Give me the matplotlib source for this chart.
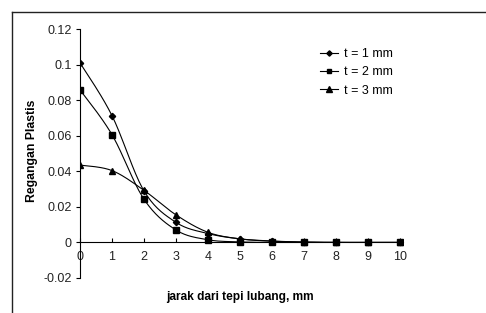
import numpy as np
import matplotlib
matplotlib.use("Agg")
import matplotlib.pyplot as plt
from matplotlib.lines import Line2D

plt.rcParams['font.family'] = ['Liberation Sans', 'DejaVu Sans']

x_vals = [0, 1, 2, 3, 4, 5, 6, 7, 8, 9, 10]
t1 = [0.101, 0.0713, 0.029, 0.0113, 0.0050, 0.0020, 0.0008, 0.0002, 0.0, 0.0, 0.0]
t2 = [0.0858, 0.0606, 0.0243, 0.0070, 0.0015, 0.0003, 0.0, 0.0, 0.0, 0.0, 0.0]
t3 = [0.0435, 0.0404, 0.0293, 0.0155, 0.0057, 0.0020, 0.0007, 0.0002, 0.0, 0.0, 0.0]
labels = ["t = 1 mm", "t = 2 mm", "t = 3 mm"]
markers = ["D", "s", "^"]
msizes = [3.2, 4.0, 4.4]


def smooth(xs, ys, n=20):
    xs = np.asarray(xs, float)
    ys = np.asarray(ys, float)
    P = np.column_stack([xs, ys])
    out = []
    m = len(P)
    for i in range(m - 1):
        p0 = P[i - 1] if i > 0 else P[i]
        p1 = P[i]
        p2 = P[i + 1]
        p3 = P[i + 2] if i + 2 < m else P[i + 1]
        c1 = p1 + (p2 - p0) / 6.0
        c2 = p2 - (p3 - p1) / 6.0
        t = np.linspace(0, 1, n)[:, None]
        seg = ((1 - t) ** 3) * p1 + 3 * ((1 - t) ** 2) * t * c1 + 3 * (1 - t) * t ** 2 * c2 + t ** 3 * p2
        out.append(seg if i == 0 else seg[1:])
    s = np.vstack(out)
    return s[:, 0], s[:, 1]


W, H = 486, 313
fig = plt.figure(figsize=(W / 100, H / 100), dpi=100)
fy = 1 - 11.5 / H
fx = 11.5 / W
fig.lines.append(Line2D([fx, 1.0], [fy, fy], transform=fig.transFigure, color='#222222', linewidth=1.0))
fig.lines.append(Line2D([fx, fx], [0.0, fy], transform=fig.transFigure, color='#222222', linewidth=1.0))

ax = fig.add_axes([80 / W, (H - 278) / H, 323 / W, (278 - 29) / H])

for ys, lab, mk, ms in zip([t1, t2, t3], labels, markers, msizes):
    sx, sy = smooth(x_vals, ys)
    ax.plot(sx, sy, color='black', linewidth=0.8)
    ax.plot(x_vals, ys, linestyle='none', marker=mk, markersize=ms, color='black')
    ax.plot([], [], color='black', linewidth=0.8, marker=mk, markersize=ms * 0.85, label=lab)

ax.set_xlim(0, 10.1)
ax.set_ylim(-0.02, 0.12)
ax.set_yticks([-0.02, 0, 0.02, 0.04, 0.06, 0.08, 0.1, 0.12])
ax.set_yticklabels(['-0.02', '0', '0.02', '0.04', '0.06', '0.08', '0.1', '0.12'])
ax.set_xticks(x_vals)
ax.set_xticklabels([str(v) for v in x_vals])

ax.spines['top'].set_visible(False)
ax.spines['right'].set_visible(False)
ax.spines['left'].set_position(('data', 0))
ax.spines['bottom'].set_position(('data', 0))
ax.spines['left'].set_linewidth(0.8)
ax.spines['bottom'].set_linewidth(0.8)

ax.tick_params(axis='y', direction='out', length=3, width=0.8, labelsize=9, pad=3, colors='black')
ax.tick_params(axis='x', direction='in', length=3, width=0.8, labelsize=9, pad=6, colors='black')
for lbl in ax.get_xticklabels() + ax.get_yticklabels():
    lbl.set_color('#222222')

fig.text(32 / W, 1 - 151 / H, 'Regangan Plastis', rotation=90, ha='center', va='center',
         fontsize=8.8, fontweight='bold')
fig.text(240 / W, 1 - 297 / H, 'jarak dari tepi lubang, mm', ha='center', va='center',
         fontsize=8.6, fontweight='bold')

fig.legend(loc='upper left', bbox_to_anchor=(320 / W, 1 - 48 / H), bbox_transform=fig.transFigure,
           frameon=False, fontsize=9, handlelength=1.4, handletextpad=0.5,
           labelspacing=0.5, borderaxespad=0, borderpad=0)

fig.savefig('out.png', dpi=100)
